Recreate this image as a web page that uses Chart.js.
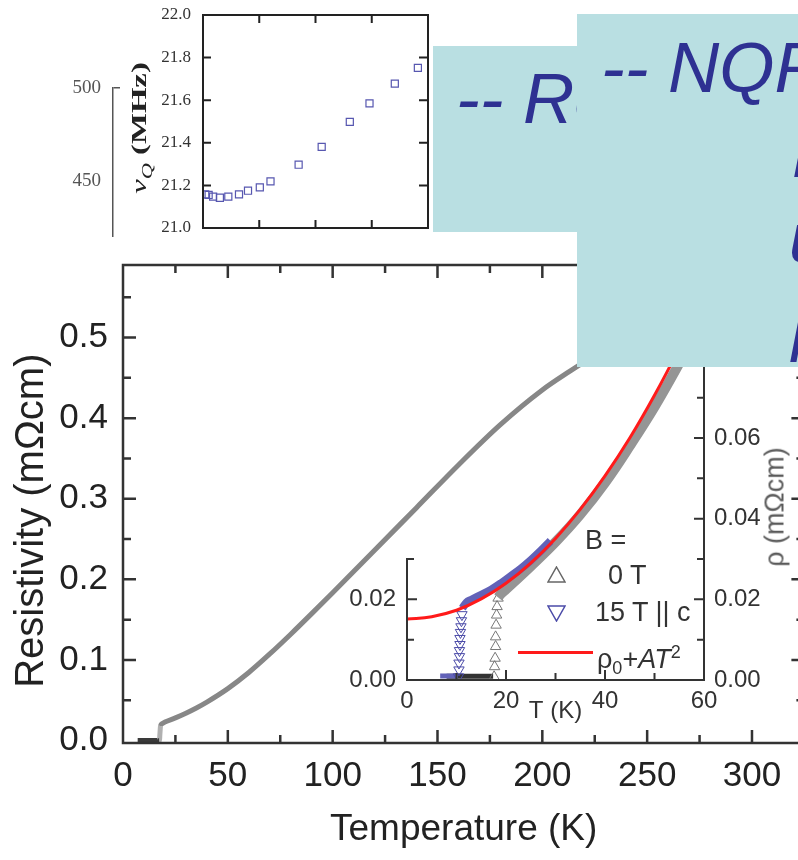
<!DOCTYPE html>
<html>
<head>
<meta charset="utf-8">
<script src="https://cdn.jsdelivr.net/npm/chart.js@4.4.0/dist/chart.umd.min.js"></script>
<style>
  html, body { margin: 0; padding: 0; background: #fff; }
  body { width: 798px; height: 860px; overflow: hidden; position: relative; font-family: 'Liberation Sans', Arial, sans-serif; }
  canvas { position: absolute; }
  .box { position: absolute; background: #b9dfe2; }
  .say { position: absolute; font-style: italic; font-size: 71px; line-height: 71px; color: #2e3192; white-space: nowrap; }
  .lg { position: absolute; font-size: 27px; line-height: 27px; color: #333; white-space: nowrap; }
  .rot { position: absolute; white-space: nowrap; transform: translate(-50%, -50%) rotate(-90deg); }
</style>
</head>
<body>
<canvas id="main" width="820" height="860" style="left:0;top:0"></canvas>
<canvas id="inset" width="468" height="440" style="left:330px;top:290px"></canvas>
<canvas id="nuq" width="320" height="280" style="left:120px;top:-20px"></canvas>
<div style="position:absolute;left:0;top:0;width:125px;height:237px;overflow:hidden">
  <canvas id="side" width="125" height="220" style="left:0;top:60px"></canvas>
</div>

<div id="nuTitle" class="rot" style="left:141px;top:128px;font-family:'Liberation Serif',serif;font-size:22px;color:#222"><i>ν</i><sub style="font-size:15px"><i>Q</i></sub> <b>(MHz)</b></div>
<div class="rot" style="left:775px;top:507px;font-size:27px;color:#5a5a5a">ρ (mΩcm)</div>

<div class="lg" style="left:585px;top:527px">B =</div>
<svg style="position:absolute;left:547px;top:566px" width="19" height="17"><polygon points="9.5,1 18,16 1,16" fill="none" stroke="#666" stroke-width="1.5"/></svg>
<div class="lg" style="left:608px;top:562px">0 T</div>
<svg style="position:absolute;left:547px;top:605px" width="19" height="17"><polygon points="1,1 18,1 9.5,16" fill="none" stroke="#4b4ba8" stroke-width="1.5"/></svg>
<div class="lg" style="left:595px;top:599px">15 T || c</div>
<div style="position:absolute;left:518px;top:651px;width:75px;height:3px;background:#ff1a1a"></div>
<div class="lg" style="left:597px;top:639px">ρ<sub style="font-size:18px">0</sub>+<i>AT</i><sup style="font-size:18px">2</sup></div>

<div class="box" style="left:433px;top:46px;width:200px;height:186px;z-index:1"></div>
<div class="say" style="left:456px;top:63px;z-index:2">-- Resistivity</div>
<div class="box" style="left:577px;top:14px;width:260px;height:353px;z-index:3"></div>
<div class="say" style="left:601px;top:32px;z-index:4">-- NQR</div>
<div class="say" style="left:793px;top:117px;z-index:4">n</div>
<div class="say" style="left:789px;top:202px;z-index:4">u</div>
<div class="say" style="left:792px;top:287px;z-index:4">p</div>

<script>
// main panel: resistivity (mOhm cm) vs temperature (K)
const mainT   = [7, 17.4, 17.6, 17.9, 18.6, 20, 25, 30, 35, 40, 50, 60, 70, 80, 90, 100, 120, 140, 160, 180, 200, 213, 225];
const mainRho = [0, 0, 0.008, 0.018, 0.021, 0.023, 0.0282, 0.034, 0.0405, 0.0478, 0.0645, 0.0845, 0.1075, 0.132, 0.1575, 0.1835, 0.236, 0.289, 0.342, 0.392, 0.435, 0.458, 0.478];
const mainXLabels = [0, 50, 100, 150, 200, 250, 300];
const mainYLabels = [0, 0.1, 0.2, 0.3, 0.4, 0.5];
const mainXMajor = [50, 100, 150, 200, 250, 300];
const mainXMinor = [25, 75, 125, 175, 225, 275, 325];
const mainYMajor = [0.1, 0.2, 0.3, 0.4, 0.5];
const mainYMinor = [0.05, 0.15, 0.25, 0.35, 0.45, 0.55];

// inset: low temperature part
const zeroFlatT = [8, 17.4];
const zeroFlatRho = [0.0009, 0.0009];
const zeroColT = [17.6, 17.7, 17.8, 17.9, 17.9, 18.0, 18.1, 18.2, 18.4];
const zeroColRho = [0.0008, 0.0033, 0.0054, 0.0083, 0.0107, 0.0136, 0.0161, 0.0182, 0.0203];
const zeroT   = [18.4, 19, 20, 25, 30, 35, 40, 45, 50, 55, 60];
const zeroRho = [0.0205, 0.0214, 0.0225, 0.0282, 0.0342, 0.041, 0.0489, 0.058, 0.0677, 0.0785, 0.090];
const fieldFlatT = [6.7, 10.3];
const fieldFlatRho = [0.001, 0.001];
const fieldColT = [10.4, 10.5, 10.5, 10.6, 10.6, 10.7, 10.7, 10.8, 10.9, 11.0, 11.1];
const fieldColRho = [0.0008, 0.0025, 0.0042, 0.0058, 0.0073, 0.0088, 0.0103, 0.0118, 0.0132, 0.0147, 0.0162];
const fieldT   = [11.2, 12, 13, 15, 17, 19, 21, 23, 25, 27, 29];
const fieldRho = [0.0178, 0.0192, 0.0199, 0.0211, 0.0224, 0.0240, 0.0258, 0.0276, 0.0297, 0.0320, 0.0345];
const fitT   = [0, 5, 10, 15, 20, 25, 30, 35, 40, 45, 50, 55, 60];
const fitRho = [0.0151, 0.0157, 0.0173, 0.0201, 0.0240, 0.0290, 0.0351, 0.0423, 0.0506, 0.0600, 0.0706, 0.0823, 0.0950];
const insXLabels = [0, 20, 40, 60];
const insLeftLabels = [0, 0.02];
const insRightLabels = [0, 0.02, 0.04, 0.06];

// top-left panel: nu_Q (MHz)
const nuT = [2, 5, 9, 15, 22.5, 32, 40, 50.5, 60, 85, 105.5, 130.5, 148, 170.5, 191];
const nuQ = [21.158, 21.155, 21.147, 21.142, 21.147, 21.158, 21.175, 21.191, 21.219, 21.297, 21.381, 21.498, 21.585, 21.678, 21.752];
const nuYLabels = [21.0, 21.2, 21.4, 21.6, 21.8, 22.0];
const sideLabels = [450, 500];

Chart.defaults.font.family = "'Liberation Sans', Arial, sans-serif";
Chart.defaults.color = '#222';

const pts = (xs, ys) => xs.map((x, i) => ({ x: x, y: ys[i] }));
const fixTicks = vals => s => { s.ticks = vals.map(v => ({ value: v })); };

// frame + inward tick marks, placed through the chart scales
const frameTicks = {
  id: 'frameTicks',
  afterDatasetsDraw(chart, args, o) {
    const { ctx, chartArea: a } = chart;
    ctx.save();
    ctx.strokeStyle = o.color;
    ctx.lineWidth = o.width;
    ctx.lineCap = 'square';
    ctx.beginPath();
    const f = o.frame;
    if (f.top) { ctx.moveTo(a.left, a.top); ctx.lineTo(a.right, a.top); }
    if (f.bottom) { ctx.moveTo(a.left, a.bottom); ctx.lineTo(a.right, a.bottom); }
    if (f.right) { ctx.moveTo(a.right, a.top); ctx.lineTo(a.right, a.bottom); }
    if (f.left === true) { ctx.moveTo(a.left, a.top); ctx.lineTo(a.left, a.bottom); }
    else if (f.left) {
      const s = chart.scales.y;
      ctx.moveTo(a.left, s.getPixelForValue(f.left[0]));
      ctx.lineTo(a.left, s.getPixelForValue(f.left[1]));
    }
    ctx.stroke();
    ctx.lineCap = 'butt';
    ctx.beginPath();
    o.marks.forEach(m => {
      const s = chart.scales[m.scale];
      m.values.forEach(v => {
        const p = s.getPixelForValue(v);
        if (m.edge === 'bottom') { ctx.moveTo(p, a.bottom); ctx.lineTo(p, a.bottom - m.len); }
        else if (m.edge === 'top') { ctx.moveTo(p, a.top); ctx.lineTo(p, a.top + m.len); }
        else if (m.edge === 'left') { ctx.moveTo(a.left, p); ctx.lineTo(a.left + m.len, p); }
        else { ctx.moveTo(a.right, p); ctx.lineTo(a.right - m.len, p); }
      });
    });
    ctx.stroke();
    ctx.restore();
  }
};

const baseOpts = {
  responsive: false,
  animation: false,
  events: [],
};

// ---- main chart
new Chart(document.getElementById('main'), {
  type: 'scatter',
  data: {
    datasets: [{
      data: pts(mainT, mainRho),
      showLine: true,
      borderColor: '#878787',
      borderWidth: 5,
      pointRadius: 0,
      cubicInterpolationMode: 'monotone',
      segment: { borderColor: c => c.p1.parsed.y === 0 ? '#3a3a3a' : (c.p1.parsed.y < 0.02 ? '#b0b0b0' : undefined) }
    }]
  },
  options: {
    ...baseOpts,
    layout: { padding: { top: 265, right: 15.6, left: 0, bottom: 0 } },
    plugins: {
      legend: { display: false }, tooltip: { enabled: false },
      frameTicks: {
        color: '#333', width: 2.5,
        frame: { top: true, bottom: true, left: true, right: true },
        marks: [
          { scale: 'x', edge: 'bottom', values: mainXMajor, len: 13 },
          { scale: 'x', edge: 'bottom', values: mainXMinor, len: 8 },
          { scale: 'x', edge: 'top', values: mainXMajor, len: 13 },
          { scale: 'x', edge: 'top', values: mainXMinor, len: 8 },
          { scale: 'y', edge: 'left', values: mainYMajor, len: 13 },
          { scale: 'y', edge: 'left', values: mainYMinor, len: 8 },
          { scale: 'y', edge: 'right', values: mainYMajor, len: 13 },
          { scale: 'y', edge: 'right', values: mainYMinor, len: 8 }
        ]
      }
    },
    scales: {
      x: {
        type: 'linear', min: 0, max: 325,
        afterFit: s => { s.height = 117; },
        afterBuildTicks: fixTicks(mainXLabels),
        grid: { display: false, drawTicks: false },
        border: { display: false },
        ticks: { font: { size: 35 }, color: '#222', padding: 12, maxRotation: 0, autoSkip: false },
        title: { display: true, text: 'Temperature (K)', font: { size: 37 }, color: '#222', padding: { top: 0, bottom: 8 } }
      },
      y: {
        type: 'linear', min: -0.003, max: 0.59,
        afterFit: s => { s.width = 123; },
        afterBuildTicks: fixTicks(mainYLabels),
        grid: { display: false, drawTicks: false },
        border: { display: false },
        ticks: { font: { size: 35 }, color: '#222', padding: 15, callback: v => v.toFixed(1) },
        title: { display: true, text: 'Resistivity (mΩcm)   ', font: { size: 40 }, color: '#222', padding: { top: 8, bottom: 0 } }
      }
    }
  },
  plugins: [frameTicks]
});

// ---- inset
new Chart(document.getElementById('inset'), {
  type: 'scatter',
  data: {
    datasets: [
      { data: pts(fitT, fitRho), showLine: true, borderColor: '#ff1a1a', borderWidth: 3, pointRadius: 0, tension: 0.4 },
      { data: pts(fieldT, fieldRho), showLine: true, borderColor: '#6262b8', borderWidth: 8, pointRadius: 0, tension: 0.4 },
      { data: pts(fieldColT, fieldColRho), pointStyle: 'triangle', rotation: 180, pointRadius: 6, borderWidth: 1, borderColor: '#4b4ba8', backgroundColor: 'rgba(0,0,0,0)' },
      { data: pts(fieldFlatT, fieldFlatRho), showLine: true, borderColor: '#6262b8', borderWidth: 5, pointRadius: 0 },
      { data: pts(zeroT, zeroRho), showLine: true, borderColor: '#959595', borderWidth: 10, pointRadius: 0, tension: 0.4 },
      { data: pts(zeroColT, zeroColRho), pointStyle: 'triangle', pointRadius: 6, borderWidth: 1, borderColor: '#777', backgroundColor: 'rgba(0,0,0,0)' },
      { data: pts(zeroFlatT, zeroFlatRho), showLine: true, borderColor: '#333', borderWidth: 5, pointRadius: 0 }
    ]
  },
  options: {
    ...baseOpts,
    layout: { padding: { top: 50, right: 0, left: 0, bottom: 0 } },
    plugins: {
      legend: { display: false }, tooltip: { enabled: false },
      frameTicks: {
        color: '#333', width: 2,
        frame: { bottom: true, right: true, left: [0, 0.03] },
        marks: [
          { scale: 'x', edge: 'bottom', values: [20, 40], len: 10 },
          { scale: 'x', edge: 'bottom', values: [10, 30, 50], len: 7 },
          { scale: 'y', edge: 'left', values: [0.02], len: 10 },
          { scale: 'y', edge: 'left', values: [0.01, 0.03], len: 7 },
          { scale: 'y', edge: 'right', values: [0.02, 0.04, 0.06, 0.08], len: 10 },
          { scale: 'y', edge: 'right', values: [0.01, 0.03, 0.05, 0.07], len: 7 }
        ]
      }
    },
    scales: {
      x: {
        type: 'linear', min: 0, max: 60,
        afterFit: s => { s.height = 50; },
        afterBuildTicks: fixTicks(insXLabels),
        grid: { display: false, drawTicks: false },
        border: { display: false },
        ticks: { font: { size: 24 }, color: '#333', padding: 7, maxRotation: 0, autoSkip: false },
        title: { display: true, text: 'T (K)', font: { size: 24 }, color: '#333', padding: { top: 0, bottom: 4 } }
      },
      y: {
        type: 'linear', position: 'left', min: 0, max: 0.0843,
        afterFit: s => { s.width = 77; },
        afterBuildTicks: fixTicks(insLeftLabels),
        grid: { display: false, drawTicks: false },
        border: { display: false },
        ticks: { font: { size: 24 }, color: '#333', padding: 11, callback: v => v.toFixed(2) }
      },
      y2: {
        type: 'linear', position: 'right', min: 0, max: 0.0843,
        afterFit: s => { s.width = 94; },
        afterBuildTicks: fixTicks(insRightLabels),
        grid: { display: false, drawTicks: false },
        border: { display: false },
        ticks: { font: { size: 24 }, color: '#333', padding: 10, callback: v => v.toFixed(2) }
      }
    }
  },
  plugins: [frameTicks]
});

// ---- nu_Q panel
new Chart(document.getElementById('nuq'), {
  type: 'scatter',
  data: {
    datasets: [{
      data: pts(nuT, nuQ),
      pointStyle: 'rect', pointRadius: 5, borderWidth: 1.2,
      borderColor: '#5757b0', backgroundColor: 'rgba(255,255,255,0)'
    }]
  },
  options: {
    ...baseOpts,
    layout: { padding: { top: 35, right: 12, left: 0, bottom: 32 } },
    plugins: {
      legend: { display: false }, tooltip: { enabled: false },
      frameTicks: {
        color: '#222', width: 2,
        frame: { top: true, bottom: true, left: true, right: true },
        marks: [
          { scale: 'x', edge: 'bottom', values: [50, 100, 150], len: 8 },
          { scale: 'x', edge: 'top', values: [50, 100, 150], len: 8 },
          { scale: 'y', edge: 'left', values: [21.2, 21.4, 21.6, 21.8], len: 8 },
          { scale: 'y', edge: 'right', values: [21.2, 21.4, 21.6, 21.8], len: 9 }
        ]
      }
    },
    scales: {
      x: { type: 'linear', min: 0, max: 200, display: false },
      y: {
        type: 'linear', min: 21.0, max: 22.0,
        afterFit: s => { s.width = 83; },
        afterBuildTicks: fixTicks(nuYLabels),
        grid: { display: false, drawTicks: false },
        border: { display: false },
        ticks: { font: { family: "'Liberation Serif', serif", size: 17 }, color: '#333', padding: 12, callback: v => v.toFixed(1) }
      }
    }
  },
  plugins: [frameTicks]
});

// ---- partial axis at far left of the pasted picture
new Chart(document.getElementById('side'), {
  type: 'scatter',
  data: { datasets: [] },
  options: {
    ...baseOpts,
    layout: { padding: { top: 28, right: 5, left: 0, bottom: 30 } },
    plugins: { legend: { display: false }, tooltip: { enabled: false } },
    scales: {
      x: { type: 'linear', min: 0, max: 1, display: false },
      y: {
        type: 'linear', min: 412.9, max: 500,
        afterFit: s => { s.width = 113; },
        afterBuildTicks: fixTicks(sideLabels),
        grid: { drawTicks: false, lineWidth: 1.5, color: c => (c.tick && c.tick.value === 500) ? '#555' : 'rgba(0,0,0,0)' },
        border: { display: true, color: '#555', width: 1.5 },
        ticks: { font: { family: "'Liberation Serif', serif", size: 19 }, color: '#555', padding: 12 }
      }
    }
  }
});

// stretch the rotated nu_Q title to the length seen in the picture
const nuTitle = document.getElementById('nuTitle');
nuTitle.style.transform = 'translate(-50%, -50%) rotate(-90deg) scaleX(' + (131 / nuTitle.offsetWidth) + ')';
</script>
</body>
</html>
